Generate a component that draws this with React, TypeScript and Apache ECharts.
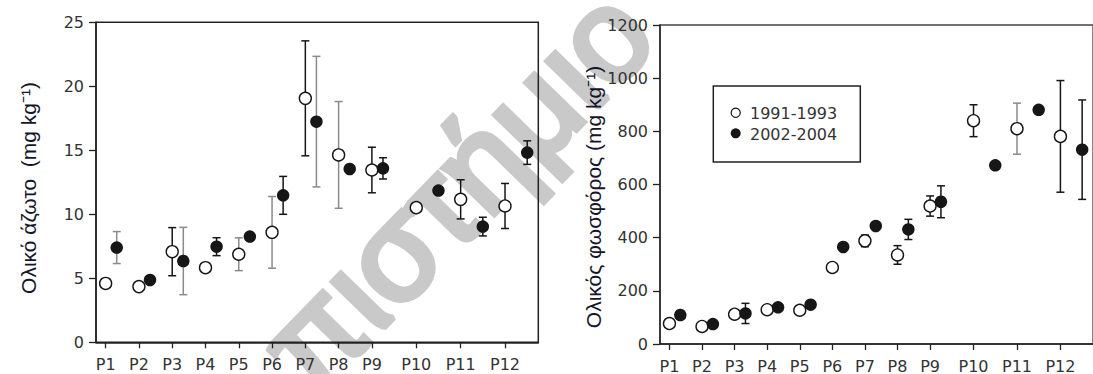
import React, { useEffect, useRef } from "react";
import * as echarts from "echarts";

// ---- data ----
const sites = ["P1", "P2", "P3", "P4", "P5", "P6", "P7", "P8", "P9", "P10", "P11", "P12"];
// x position of each site on the value axis (1991-1993 points) and of the 2002-2004 points
const siteX = [1, 2, 3, 4, 5, 6, 7, 8, 9, 10.333, 11.667, 13];
const laterX = [1.333, 2.333, 3.333, 4.333, 5.333, 6.333, 7.333, 8.333, 9.333, 11, 12.333, 13.667];
const seriesNames = ["1991-1993", "2002-2004"];

// Total nitrogen (mg kg-1)
const nEarly = [4.6, 4.35, 7.08, 5.83, 6.88, 8.59, 19.06, 14.64, 13.46, 10.52, 11.17, 10.65];
const nEarlySd = [null, null, 1.88, null, 1.28, 2.8, 4.49, 4.17, 1.78, null, 1.53, 1.76];
const nLate = [7.4, 4.87, 6.35, 7.47, 8.26, 11.48, 17.24, 13.54, 13.59, 11.85, 9.04, 14.82];
const nLateSd = [1.25, null, 2.63, 0.7, null, 1.48, 5.1, null, 0.83, null, 0.73, 0.92];

// Total phosphorus (mg kg-1)
const pEarly = [77, 66, 112, 129, 127, 288, 388, 335, 519, 840, 810, 781];
const pEarlySd = [null, null, null, null, null, null, 22, 35, 38, 60, 96, 210];
const pLate = [109, 75, 115, 138, 148, 365, 444, 431, 535, 672, 881, 731];
const pLateSd = [null, null, 38, null, null, null, null, 38, 60, null, null, 187];

// error bars drawn in grey (rest are dark)
const nEarlyGreyBars = ["P5", "P6", "P8"];
const nLateGreyBars = ["P1", "P3", "P7"];
const pEarlyGreyBars = ["P11"];
const pLateGreyBars: string[] = [];

const nAxis = { min: 0, max: 25, interval: 5 };
const pAxis = { min: 0, max: 1200, interval: 200 };
const nTitle = "Ολικό άζωτο  (mg kg⁻¹)";
const pTitle = "Ολικός φωσφόρος (mg kg⁻¹)";
const watermark = "πιστήμιο";

// ---- styles ----
const DARK = "#161616";
const GREY = "#8a8a8a";
const AXIS = "#222";
const LABEL = "#333";
const FONT = "DejaVu Sans";
const WM = "#c9c9c9";

function errData(xs: number[], means: number[], sds: (number | null)[], grey: string[]) {
  const out: number[][] = [];
  xs.forEach((x, i) => {
    const sd = sds[i];
    if (sd == null) return;
    out.push([x, means[i] - sd, means[i] + sd, grey.includes(sites[i]) ? 1 : 0]);
  });
  return out;
}

const renderErr = (_params: any, api: any) => {
  const x = api.value(0);
  const lo = api.value(1);
  const hi = api.value(2);
  const grey = api.value(3);
  const a = api.coord([x, hi]);
  const b = api.coord([x, lo]);
  const w = 4;
  const style = { stroke: grey ? GREY : DARK, lineWidth: 1.5, fill: null };
  return {
    type: "group",
    children: [
      { type: "line", shape: { x1: a[0], y1: a[1], x2: b[0], y2: b[1] }, style },
      { type: "line", shape: { x1: a[0] - w, y1: a[1], x2: a[0] + w, y2: a[1] }, style },
      { type: "line", shape: { x1: b[0] - w, y1: b[1], x2: b[0] + w, y2: b[1] }, style },
    ],
  };
};

function xAxisOpt(gridIndex: number) {
  return {
    type: "value",
    gridIndex,
    min: 0.71,
    max: 14,
    z: 5,
    splitLine: { show: false },
    axisLine: { lineStyle: { color: AXIS, width: 1.5 } },
    axisTick: { show: true, length: 6, lineStyle: { color: AXIS, width: 1.3 }, customValues: siteX },
    axisLabel: {
      color: LABEL,
      fontFamily: FONT,
      fontSize: 16,
      margin: 14,
      customValues: siteX,
      formatter: (v: number) => {
        const i = siteX.findIndex((s) => Math.abs(s - v) < 0.01);
        return i >= 0 ? sites[i] : "";
      },
    },
  };
}

function yAxisOpt(gridIndex: number, ax: { min: number; max: number; interval: number }) {
  return {
    type: "value",
    gridIndex,
    min: ax.min,
    max: ax.max,
    interval: ax.interval,
    z: 5,
    splitLine: { show: false },
    axisLine: { show: true, lineStyle: { color: AXIS, width: 1.5 } },
    axisTick: { show: true, length: 7, lineStyle: { color: AXIS, width: 1.3 } },
    axisLabel: {
      color: LABEL,
      fontFamily: FONT,
      fontSize: 16,
      margin: 12,
      formatter: (v: number) => String(v),
    },
  };
}

function panelSeries(
  idx: number,
  early: number[],
  earlySd: (number | null)[],
  late: number[],
  lateSd: (number | null)[],
  earlyGrey: string[],
  lateGrey: string[]
) {
  return [
    {
      type: "custom",
      xAxisIndex: idx,
      yAxisIndex: idx,
      renderItem: renderErr,
      encode: { x: 0, y: [1, 2] },
      data: errData(siteX, early, earlySd, earlyGrey),
      z: 6,
      silent: true,
    },
    {
      type: "custom",
      xAxisIndex: idx,
      yAxisIndex: idx,
      renderItem: renderErr,
      encode: { x: 0, y: [1, 2] },
      data: errData(laterX, late, lateSd, lateGrey),
      z: 6,
      silent: true,
    },
    {
      name: seriesNames[0],
      type: "scatter",
      xAxisIndex: idx,
      yAxisIndex: idx,
      symbol: "circle",
      symbolSize: 12,
      itemStyle: { color: "#fff", borderColor: DARK, borderWidth: 1.4, opacity: 1 },
      data: siteX.map((x, i) => [x, early[i]]),
      z: 7,
    },
    {
      name: seriesNames[1],
      type: "scatter",
      xAxisIndex: idx,
      yAxisIndex: idx,
      symbol: "circle",
      symbolSize: 12.5,
      itemStyle: { color: DARK, opacity: 1 },
      data: laterX.map((x, i) => [x, late[i]]),
      z: 7,
    },
  ];
}

export default function App() {
  const ref = useRef<HTMLDivElement>(null);

  useEffect(() => {
    if (!ref.current) return;
    const chart = echarts.init(ref.current, null, { renderer: "svg" });
    const option = {
      animation: false,
      backgroundColor: "#fff",
      grid: [
        { left: 96, top: 22.3, width: 442.3, height: 320, show: true, z: 4, borderColor: AXIS, borderWidth: 1.5, backgroundColor: "transparent" },
        { left: 660, top: 25, width: 443, height: 320, show: true, z: 4, borderColor: "#444", borderWidth: 1.3, backgroundColor: "transparent" },
      ],
      xAxis: [xAxisOpt(0), xAxisOpt(1)],
      yAxis: [yAxisOpt(0, nAxis), yAxisOpt(1, pAxis)],
      series: [
        ...panelSeries(0, nEarly, nEarlySd, nLate, nLateSd, nEarlyGreyBars, nLateGreyBars),
        ...panelSeries(1, pEarly, pEarlySd, pLate, pLateSd, pEarlyGreyBars, pLateGreyBars),
      ],
      graphic: {
        z: 1,
        elements: [
          {
            type: "text",
            x: 455,
            y: 190,
            rotation: 0.8,
            z: 1,
            silent: true,
            style: {
              text: watermark,
              fontFamily: "Liberation Sans",
              fontWeight: "normal",
              fontSize: 130,
              fill: WM,
              stroke: WM,
              lineWidth: 6,
              align: "center",
              verticalAlign: "middle",
            },
          },
          {
            type: "text",
            x: 28,
            y: 188,
            rotation: Math.PI / 2,
            z: 10,
            style: {
              text: nTitle,
              fontFamily: "Liberation Sans",
              fontSize: 21,
              fill: "#14142a",
              align: "center",
              verticalAlign: "middle",
            },
          },
          {
            type: "text",
            x: 593,
            y: 197,
            rotation: Math.PI / 2,
            z: 10,
            style: {
              text: pTitle,
              fontFamily: "Liberation Sans",
              fontSize: 21,
              fill: "#14142a",
              align: "center",
              verticalAlign: "middle",
            },
          },
          {
            type: "rect",
            z: 10,
            shape: { x: 713.3, y: 86, width: 147, height: 76 },
            style: { fill: "#fff", stroke: AXIS, lineWidth: 1.5 },
          },
          {
            type: "circle",
            z: 11,
            shape: { cx: 735.7, cy: 112.7, r: 4.6 },
            style: { fill: "#fff", stroke: DARK, lineWidth: 1.2 },
          },
          {
            type: "circle",
            z: 11,
            shape: { cx: 735.7, cy: 133.3, r: 5 },
            style: { fill: DARK },
          },
          {
            type: "text",
            x: 750,
            y: 113,
            z: 11,
            style: { text: seriesNames[0], fontFamily: FONT, fontSize: 16, fill: LABEL, align: "left", verticalAlign: "middle" },
          },
          {
            type: "text",
            x: 750,
            y: 134,
            z: 11,
            style: { text: seriesNames[1], fontFamily: FONT, fontSize: 16, fill: LABEL, align: "left", verticalAlign: "middle" },
          },
        ],
      },
    };
    chart.setOption(option as any);
    return () => chart.dispose();
  }, []);

  return (
    <div
      ref={ref}
      style={{ position: "absolute", left: 0, top: 0, width: 1093, height: 374 }}
    />
  );
}
